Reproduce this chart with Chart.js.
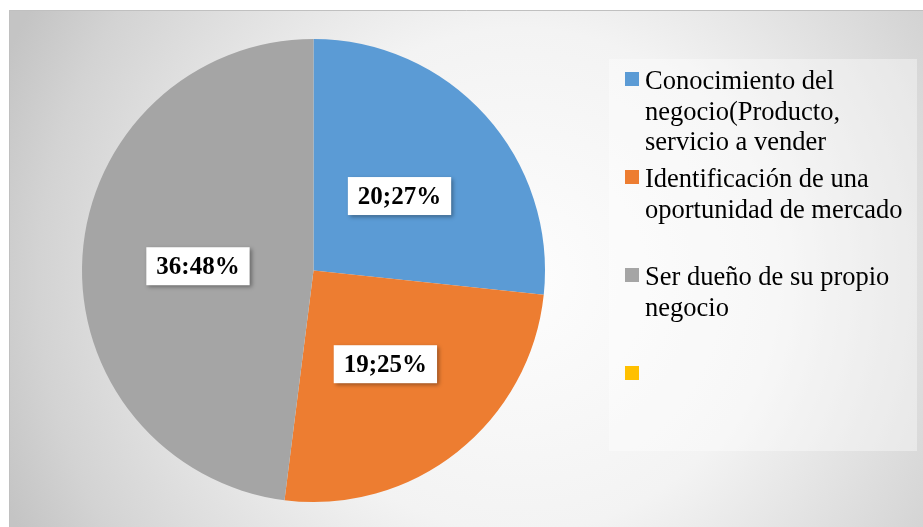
<!DOCTYPE html>
<html>
<head>
<meta charset="utf-8">
<script src="https://cdn.jsdelivr.net/npm/chart.js@4.4.0/dist/chart.umd.min.js"></script>
<style>
  html, body { margin: 0; padding: 0; background: #fff; }
  #wrap { width: 923px; height: 527px; position: relative; }
</style>
</head>
<body>
<div id="wrap"><canvas id="chart" width="923" height="527"></canvas></div>
<script>
var categories = [
    'Conocimiento del negocio(Producto, servicio a vender',
    'Identificación de una oportunidad de mercado',
    'Ser dueño de su propio negocio',
    ''
];
var values = [20, 19, 36, 0];
var sliceLabels = ['20;27%', '19;25%', '36:48%', ''];
var colors = ['#5B9BD5', '#ED7D31', '#A5A5A5', '#FFC000'];

// background frame with the soft grey gradient
var backgroundPlugin = {
    id: 'frameBg',
    beforeDraw: function(chart) {
        var ctx = chart.ctx;
        ctx.save();
        ctx.fillStyle = '#ffffff';
        ctx.fillRect(0, 0, chart.width, chart.height);
        var g = ctx.createRadialGradient(520, 280, 0, 520, 280, 560);
        g.addColorStop(0, '#fdfdfd');
        g.addColorStop(0.45, '#f3f3f3');
        g.addColorStop(0.86, '#d3d3d3');
        g.addColorStop(1, '#c4c4c4');
        ctx.fillStyle = g;
        ctx.fillRect(9, 10, chart.width - 9, chart.height - 10);
        ctx.strokeStyle = '#c0c0c0';
        ctx.lineWidth = 1;
        ctx.beginPath();
        ctx.moveTo(9.5, chart.height);
        ctx.lineTo(9.5, 10.5);
        ctx.lineTo(chart.width, 10.5);
        ctx.stroke();
        ctx.restore();
    }
};

// value labels in white boxes
var sliceLabelPlugin = {
    id: 'sliceLabels',
    afterDatasetsDraw: function(chart) {
        var ctx = chart.ctx;
        var meta = chart.getDatasetMeta(0);
        ctx.save();
        ctx.font = 'bold 25px "Liberation Serif", "Times New Roman", serif';
        ctx.textAlign = 'center';
        ctx.textBaseline = 'middle';
        meta.data.forEach(function(arc, i) {
            if (!values[i]) return;
            var p = arc.tooltipPosition();
            var cy = p.y + 3;
            var w = ctx.measureText(sliceLabels[i]).width + 20;
            var h = 38;
            ctx.save();
            ctx.shadowColor = 'rgba(0,0,0,0.35)';
            ctx.shadowBlur = 4;
            ctx.shadowOffsetX = 2;
            ctx.shadowOffsetY = 2;
            ctx.fillStyle = '#ffffff';
            ctx.fillRect(p.x - w / 2, cy - h / 2, w, h);
            ctx.restore();
            ctx.fillStyle = '#000000';
            ctx.fillText(sliceLabels[i], p.x, cy + 1);
        });
        ctx.restore();
    }
};

function wrapText(ctx, text, maxW) {
    var words = text.split(' ');
    var lines = [];
    var line = '';
    words.forEach(function(wd) {
        var test = line ? line + ' ' + wd : wd;
        if (ctx.measureText(test).width > maxW && line) {
            lines.push(line);
            line = wd;
        } else {
            line = test;
        }
    });
    lines.push(line);
    return lines;
}

// legend drawn on the right in a translucent box
var legendPlugin = {
    id: 'sideLegend',
    afterDraw: function(chart) {
        var ctx = chart.ctx;
        ctx.save();
        ctx.fillStyle = 'rgba(255,255,255,0.38)';
        ctx.fillRect(609, 59, 308, 392);
        ctx.font = '26.5px "Liberation Serif", "Times New Roman", serif';
        ctx.textAlign = 'left';
        ctx.textBaseline = 'alphabetic';
        var top = 72;
        chart.data.labels.forEach(function(label, i) {
            var y = top + i * 98;
            ctx.fillStyle = colors[i];
            ctx.fillRect(625, y, 14, 14);
            ctx.fillStyle = '#000000';
            wrapText(ctx, label, 268).forEach(function(ln, k) {
                ctx.fillText(ln, 645, y + 17 + k * 30.5);
            });
        });
        ctx.restore();
    }
};

var chart = new Chart(document.getElementById('chart'), {
    type: 'pie',
    data: {
        labels: categories,
        datasets: [{
            data: values,
            backgroundColor: colors,
            borderWidth: 0
        }]
    },
    options: {
        responsive: false,
        animation: false,
        events: [],
        layout: {
            padding: { left: 82, right: 378, top: 39, bottom: 25 }
        },
        plugins: {
            legend: { display: false },
            tooltip: { enabled: false }
        }
    },
    plugins: [backgroundPlugin, sliceLabelPlugin, legendPlugin]
});
</script>
</body>
</html>
